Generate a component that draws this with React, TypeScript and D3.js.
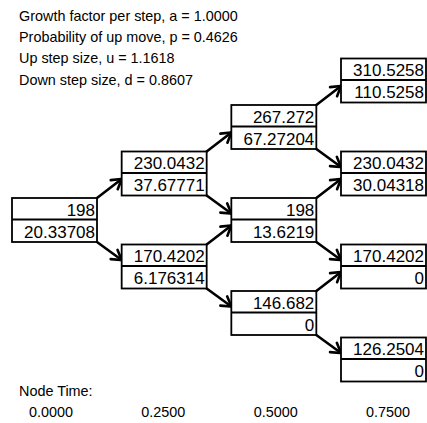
import React from "react";
import * as d3 from "d3";

const headerLines = [
  "Growth factor per step, a = 1.0000",
  "Probability of up move, p = 0.4626",
  "Up step size, u = 1.1618",
  "Down step size, d = 0.8607",
];
const stepTimes = ["0.0000", "0.2500", "0.5000", "0.7500"];
const nodePrices = [
  ["198"],
  ["230.0432", "170.4202"],
  ["267.272", "198", "146.682"],
  ["310.5258", "230.0432", "170.4202", "126.2504"],
];
const optionValues = [
  ["20.33708"],
  ["37.67771", "6.176314"],
  ["67.27204", "13.6219", "0"],
  ["110.5258", "30.04318", "0", "0"],
];

const W = 427;
const H = 423;
const BOX_W = 85;
const ROW1 = 21.5;
const ROW2 = 22.5;
const FONT = "'Liberation Sans', Arial, sans-serif";

export default function App() {
  const x = d3.scaleLinear().domain([0, 3]).range([12, 341]);
  const y = d3.scaleLinear().domain([-3, 3]).range([359, 80]);
  const tx = d3.scaleLinear().domain([0, 3]).range([51, 388]);
  const midY = (level: number, j: number) => y(level - 2 * j);

  const arrows: { x1: number; y1: number; x2: number; y2: number }[] = [];
  nodePrices.forEach((col, level) => {
    if (level === nodePrices.length - 1) return;
    col.forEach((_, j) => {
      const m = midY(level, j);
      const xr = x(level) + BOX_W;
      const xt = x(level + 1);
      arrows.push({ x1: xr, y1: m - ROW1, x2: xt, y2: midY(level + 1, j) + 6 });
      arrows.push({ x1: xr, y1: m + ROW2, x2: xt, y2: midY(level + 1, j + 1) - 6 });
    });
  });

  const head = (a: { x1: number; y1: number; x2: number; y2: number }) => {
    const ang = Math.atan2(a.y2 - a.y1, a.x2 - a.x1);
    const L = 11;
    const s = 0.55;
    const p1 = [a.x2 - L * Math.cos(ang - s), a.y2 - L * Math.sin(ang - s)];
    const p2 = [a.x2 - L * Math.cos(ang + s), a.y2 - L * Math.sin(ang + s)];
    return `M${p1[0]},${p1[1]}L${a.x2},${a.y2}L${p2[0]},${p2[1]}`;
  };

  return (
    <svg
      width={W}
      height={H}
      style={{ position: "absolute", left: 0, top: 0, background: "#fff" }}
      fontFamily={FONT}
    >
      <rect width={W} height={H} fill="#fff" />
      {headerLines.map((t, i) => (
        <text key={i} x={19} y={21 + i * 21.2} fontSize={14.4} fill="#000">
          {t}
        </text>
      ))}
      {arrows.map((a, i) => (
        <g key={i} stroke="#000" strokeWidth={2.6} fill="none" strokeLinecap="round">
          <line x1={a.x1} y1={a.y1} x2={a.x2} y2={a.y2} />
          <path d={head(a)} />
        </g>
      ))}
      {nodePrices.map((col, level) =>
        col.map((p, j) => {
          const m = midY(level, j);
          const bx = x(level);
          return (
            <g key={`${level}-${j}`}>
              <rect x={bx} y={m - ROW1} width={BOX_W} height={ROW1 + ROW2} fill="#fff" stroke="#000" strokeWidth={1.8} />
              <line x1={bx} x2={bx + BOX_W} y1={m} y2={m} stroke="#000" strokeWidth={1.8} />
              <text x={bx + BOX_W - 2} y={m - 4} textAnchor="end" fontSize={17} fill="#000">
                {p}
              </text>
              <text x={bx + BOX_W - 2} y={m + ROW2 - 4.5} textAnchor="end" fontSize={17} fill="#000">
                {optionValues[level][j]}
              </text>
            </g>
          );
        })
      )}
      <text x={19} y={396} fontSize={14.4} fill="#000">Node Time:</text>
      {stepTimes.map((t, i) => (
        <text key={i} x={tx(i)} y={417} textAnchor="middle" fontSize={14.4} fill="#000">
          {t}
        </text>
      ))}
    </svg>
  );
}
